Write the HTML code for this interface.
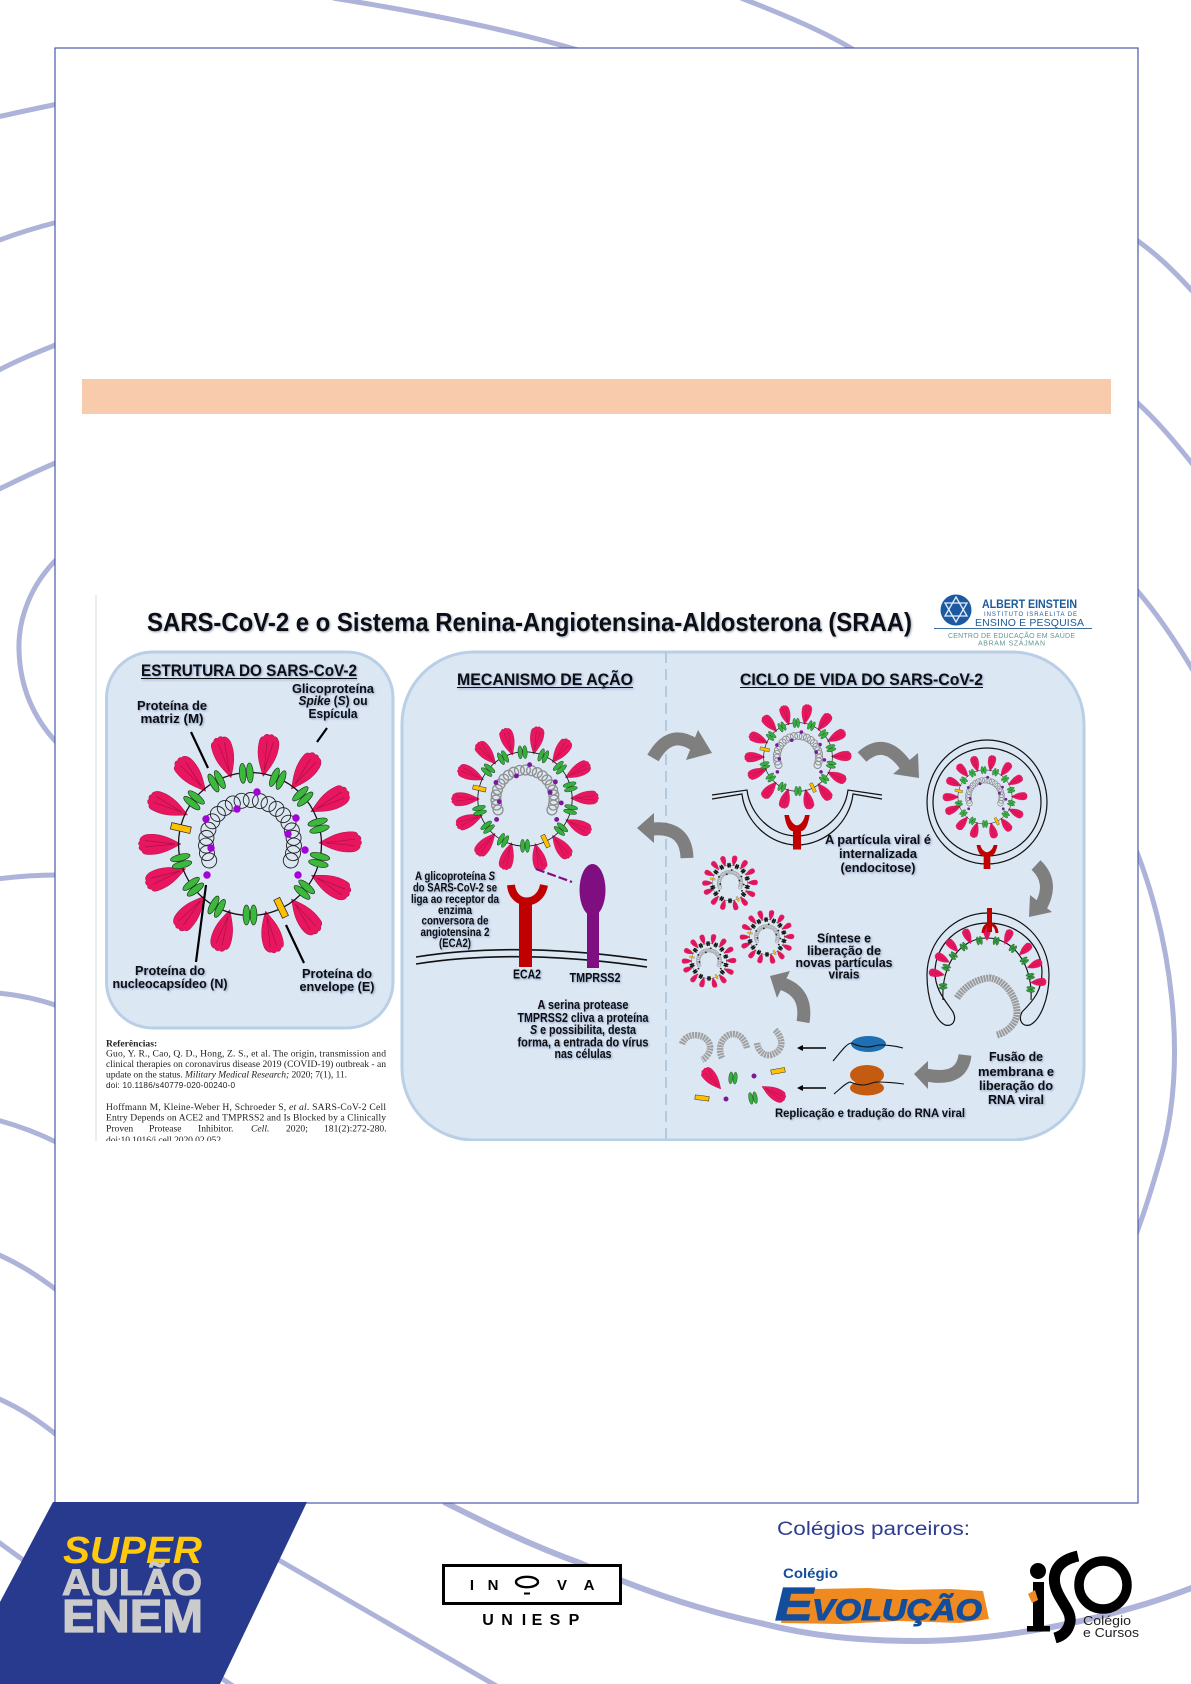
<!DOCTYPE html>
<html lang="pt">
<head>
<meta charset="utf-8">
<title>SARS-CoV-2 e o Sistema Renina-Angiotensina-Aldosterona</title>
<style>
html,body{margin:0;padding:0;background:#fff}
svg{display:block}
text{font-family:"Liberation Sans",sans-serif}
.b{font-weight:700;fill:#0d0d12}
.sh{filter:drop-shadow(1px 1px 1px rgba(70,100,150,.55))}
.t{font-family:"Liberation Serif",serif;font-size:9.6px;fill:#222}
</style>
</head>
<body>
<svg xmlns="http://www.w3.org/2000/svg" width="1191" height="1684" viewBox="0 0 1191 1684">
<defs>
  <g id="s">
    <path d="M0,2 C-6,-9 -11,-18 -10.500,-31 C-10.500,-35 -9,-37 -7,-37 C-6,-40 -3,-41 -2,-39 C-1,-41 2,-41 3,-39 C6,-40 9,-36 9.500,-32 C11,-19 6,-9 0,2Z" fill="#e8165e" stroke="#b01048" stroke-width=".5"/>
    <path d="M0,-4 L-3,-34 M0,-4 L3.500,-34" stroke="#a81048" stroke-width=".7" fill="none"/>
  </g>
  <g id="m"><ellipse cx="-3.600" rx="3.400" ry="10" stroke="#1a3a1a" stroke-width=".7"/><ellipse cx="3.600" rx="3.400" ry="10" stroke="#1a3a1a" stroke-width=".7"/></g>
  <rect id="e" x="-3.300" y="-10" width="6.600" height="20" fill="#ffc000" stroke="#222" stroke-width=".7"/>
  <g id="shell">
    <use href="#s" transform="rotate(11) translate(0,-71)"/><use href="#s" transform="rotate(37) translate(0,-71)"/><use href="#s" transform="rotate(62) translate(0,-71)"/><use href="#s" transform="rotate(89) translate(0,-71)"/><use href="#s" transform="rotate(117) translate(0,-71)"/><use href="#s" transform="rotate(143) translate(0,-71)"/><use href="#s" transform="rotate(167) translate(0,-71)"/><use href="#s" transform="rotate(197) translate(0,-71)"/><use href="#s" transform="rotate(221) translate(0,-71)"/><use href="#s" transform="rotate(249) translate(0,-71)"/><use href="#s" transform="rotate(270) translate(0,-71)"/><use href="#s" transform="rotate(295) translate(0,-71)"/><use href="#s" transform="rotate(320) translate(0,-71)"/><use href="#s" transform="rotate(344) translate(0,-71)"/>
    <circle r="71.500" fill="none" stroke="#111" stroke-width="1.300"/>
  </g>
  <g id="mp">
    <use href="#m" transform="rotate(-3) translate(0,-71)"/><use href="#m" transform="rotate(23) translate(0,-71)"/><use href="#m" transform="rotate(48) translate(0,-71)"/><use href="#m" transform="rotate(75) translate(0,-71)"/><use href="#m" transform="rotate(103) translate(0,-71)"/><use href="#m" transform="rotate(130) translate(0,-71)"/><use href="#m" transform="rotate(180) translate(0,-71)"/><use href="#m" transform="rotate(208) translate(0,-71)"/><use href="#m" transform="rotate(233) translate(0,-71)"/><use href="#m" transform="rotate(256) translate(0,-71)"/><use href="#m" transform="rotate(308) translate(0,-71)"/><use href="#m" transform="rotate(332) translate(0,-71)"/>
    <use href="#e" transform="rotate(283) translate(0,-71)"/><use href="#e" transform="rotate(154) translate(0,-71)"/>
  </g>
  <g id="coil" fill="none">
    <circle cy="-44" r="7.500" transform="rotate(-112)"/><circle cy="-44" r="7.500" transform="rotate(-102)"/><circle cy="-44" r="7.500" transform="rotate(-92)"/><circle cy="-44" r="7.500" transform="rotate(-82)"/><circle cy="-44" r="7.500" transform="rotate(-71)"/><circle cy="-44" r="7.500" transform="rotate(-59)"/><circle cy="-44" r="7.500" transform="rotate(-47)"/><circle cy="-44" r="7.500" transform="rotate(-35)"/><circle cy="-44" r="7.500" transform="rotate(-23)"/><circle cy="-44" r="7.500" transform="rotate(-11)"/><circle cy="-44" r="7.500" transform="rotate(1)"/><circle cy="-44" r="7.500" transform="rotate(13)"/><circle cy="-44" r="7.500" transform="rotate(25)"/><circle cy="-44" r="7.500" transform="rotate(37)"/><circle cy="-44" r="7.500" transform="rotate(49)"/><circle cy="-44" r="7.500" transform="rotate(61)"/><circle cy="-44" r="7.500" transform="rotate(72)"/><circle cy="-44" r="7.500" transform="rotate(82)"/><circle cy="-44" r="7.500" transform="rotate(92)"/><circle cy="-44" r="7.500" transform="rotate(102)"/><circle cy="-44" r="7.500" transform="rotate(112)"/>
  </g>
  <g id="dots">
    <circle cx="7" cy="-52" r="3.700"/><circle cx="-13" cy="-35" r="3.700"/><circle cx="-44" cy="-25" r="3.700"/><circle cx="-39" cy="4" r="3.700"/><circle cx="-43" cy="31" r="3.700"/><circle cx="46" cy="-26" r="3.700"/><circle cx="38" cy="-10" r="3.700"/><circle cx="55" cy="6" r="3.700"/><circle cx="48" cy="31" r="3.700"/>
  </g>
  <g id="v1">
    <use href="#shell"/><use href="#mp" fill="#35b03c"/>
    <use href="#coil" stroke="#8f8f8f" stroke-width="2"/>
    <use href="#dots" fill="#7a1a9a"/>
  </g>
  <g id="v2">
    <use href="#shell"/><use href="#mp" fill="#111"/>
    <use href="#coil" stroke="#a5a5a5" stroke-width="3"/>
    <use href="#dots" fill="#222"/>
  </g>
  <path id="y" d="M-11,0 C-9,13 -5,14 -3.500,14 L-3.500,30 L3.500,30 L3.500,14 C5,14 9,13 11,0 L7,0 C6,6 2,9 0,9 C-2,9 -6,6 -7,0Z" fill="#c00000"/>
  <clipPath id="clipDiagram"><rect x="90" y="580" width="1030" height="561"/></clipPath>
</defs>

<rect width="1191" height="1684" fill="#fff"/>

<!-- background curves -->
<g fill="none" stroke="#aeb3d9" stroke-width="5">
  <path d="M333,-2 C420,12 510,30 578,50"/>
  <path d="M741,-2 C785,15 825,32 854,50"/>
  <path d="M-3,117 C20,112 38,108 58,104"/>
  <path d="M-3,241 C18,233 38,227 58,222"/>
  <path d="M-3,371 C18,360 38,352 58,344"/>
  <path d="M-3,490 C18,480 38,470 58,462"/>
  <path d="M58,558 C30,585 18,620 19,650 C20,690 35,720 58,744"/>
  <path d="M-3,879 C20,876 38,875 58,875"/>
  <path d="M-3,993 C20,995 38,999 58,1006"/>
  <path d="M-3,1120 C20,1126 38,1133 58,1143"/>
  <path d="M-3,1254 C20,1264 38,1276 58,1291"/>
  <path d="M-3,1398 C20,1408 38,1420 58,1436"/>
  <path d="M1132,237 C1155,252 1175,272 1194,293"/>
  <path d="M1132,398 C1155,418 1175,442 1194,466"/>
  <path d="M1132,585 C1155,610 1175,640 1194,672"/>
  <path d="M1132,840 C1170,930 1190,1060 1160,1160 C1150,1195 1140,1225 1132,1245"/>
  <path d="M444,1502 C490,1525 530,1545 580,1563 C640,1590 700,1610 760,1623 C810,1636 860,1641 917,1641 C1000,1641 1110,1620 1194,1587" stroke-width="6"/>
  <path d="M-3,1541 L30,1565"/>
  <path d="M270,1555 L500,1688"/>
  <path d="M218,1676 L236,1688"/>
</g>

<!-- page frame -->
<rect x="55" y="48" width="1083" height="1455" fill="#fff" stroke="#4a59a8" stroke-width="1.200"/>
<rect x="82" y="379" width="1029" height="35" fill="#f7cbac"/>

<!-- blue footer shape -->
<polygon points="53,1502 307,1502 220,1684 0,1684 0,1602" fill="#273a8e"/>

<!-- DIAGRAM -->
<g clip-path="url(#clipDiagram)">
  <line x1="96" y1="595" x2="96" y2="1141" stroke="#d8d8d8" stroke-width="1"/>
  <rect x="106.500" y="652" width="286.500" height="376" rx="46" fill="#dce7f4" stroke="#b9cfe6" stroke-width="3"/>
  <rect x="402" y="652" width="682" height="488" rx="72" fill="#dce7f4" stroke="#b9cfe6" stroke-width="3"/>
  <line x1="666" y1="652" x2="666" y2="1141" stroke="#a6c4de" stroke-width="1.600" stroke-dasharray="11 6"/>

  <!-- title -->
  <g class="sh">
    <text class="b" x="147" y="631" font-size="26" textLength="765" lengthAdjust="spacingAndGlyphs">SARS-CoV-2 e o Sistema Renina-Angiotensina-Aldosterona (SRAA)</text>
  </g>

  <!-- Left panel -->
  <g transform="translate(250,844)">
    <use href="#shell"/><use href="#mp" fill="#3cb83c"/>
    <use href="#coil" stroke="#222" stroke-width=".9"/>
    <use href="#dots" fill="#a400d8"/>
  </g>
  <g stroke="#000" stroke-width="2.200">
    <line x1="191" y1="732" x2="208" y2="768"/>
    <line x1="327" y1="728" x2="317" y2="742"/>
    <line x1="206" y1="885" x2="196" y2="962"/>
    <line x1="286" y1="925" x2="304" y2="963"/>
  </g>
  <g class="sh">
    <text class="b" x="141" y="676" font-size="17" textLength="216" lengthAdjust="spacingAndGlyphs">ESTRUTURA DO SARS-CoV-2</text>
    <line x1="141" y1="678.500" x2="357" y2="678.500" stroke="#111" stroke-width="1"/>
    <g font-size="13">
      <text class="b" x="333" y="693" text-anchor="middle" textLength="82" lengthAdjust="spacingAndGlyphs">Glicoproteína</text>
      <text class="b" x="333" y="705" text-anchor="middle" textLength="69" lengthAdjust="spacingAndGlyphs"><tspan font-style="italic">Spike</tspan> (<tspan font-style="italic">S</tspan>) ou</text>
      <text class="b" x="333" y="718" text-anchor="middle" textLength="49" lengthAdjust="spacingAndGlyphs">Espícula</text>
      <text class="b" x="172" y="710" text-anchor="middle" textLength="70" lengthAdjust="spacingAndGlyphs">Proteína de</text>
      <text class="b" x="172" y="723" text-anchor="middle" textLength="63" lengthAdjust="spacingAndGlyphs">matriz (M)</text>
      <text class="b" x="170" y="975" text-anchor="middle" textLength="70" lengthAdjust="spacingAndGlyphs">Proteína do</text>
      <text class="b" x="170" y="988" text-anchor="middle" textLength="115" lengthAdjust="spacingAndGlyphs">nucleocapsídeo (N)</text>
      <text class="b" x="337" y="978" text-anchor="middle" textLength="70" lengthAdjust="spacingAndGlyphs">Proteína do</text>
      <text class="b" x="337" y="991" text-anchor="middle" textLength="75" lengthAdjust="spacingAndGlyphs">envelope (E)</text>
    </g>
  </g>

  <!-- References -->
  <text class="t" x="106" y="1046.500" font-weight="700">Referências:</text>
  <text class="t" x="106" y="1056.500" textLength="280">Guo, Y. R., Cao, Q. D., Hong, Z. S., et al. The origin, transmission and</text>
  <text class="t" x="106" y="1067" textLength="280">clinical therapies on coronavirus disease 2019 (COVID-19) outbreak - an</text>
  <text class="t" x="106" y="1077.600" textLength="241">update on the status. <tspan font-style="italic">Military Medical Research;</tspan> 2020; 7(1), 11.</text>
  <text x="106" y="1088" font-size="8.200" fill="#222" textLength="129">doi: 10.1186/s40779-020-00240-0</text>
  <text class="t" x="106" y="1110" textLength="280">Hoffmann M, Kleine-Weber H, Schroeder S, <tspan font-style="italic">et al</tspan>. SARS-CoV-2 Cell</text>
  <text class="t" x="106" y="1120.500" textLength="280">Entry Depends on ACE2 and TMPRSS2 and Is Blocked by a Clinically</text>
  <text class="t" y="1131.500"><tspan x="106">Proven</tspan><tspan x="149">Protease</tspan><tspan x="198">Inhibitor.</tspan><tspan x="251" font-style="italic">Cell.</tspan><tspan x="286">2020;</tspan><tspan x="324">181(2):272-280.</tspan></text>
  <text class="t" x="106" y="1143" textLength="115">doi:10.1016/j.cell.2020.02.052</text>

  <!-- Mechanism -->
  <use href="#v1" transform="translate(525,799) scale(.66)"/>
  <g fill="none" stroke="#111" stroke-width="1.600">
    <path d="M416,957 Q517,941 647,960"/>
    <path d="M416,964 Q517,948 647,967"/>
  </g>
  <rect x="519" y="903" width="13" height="64" fill="#c00000"/>
  <path d="M511,885 C513,907 540,907 544,885" fill="none" stroke="#c00000" stroke-width="8"/>
  <rect x="587" y="905" width="12" height="63" fill="#7f0f80"/>
  <ellipse cx="592.500" cy="890" rx="13" ry="26" fill="#7f0f80"/>
  <line x1="536" y1="869" x2="572" y2="882" stroke="#7f0f80" stroke-width="2.200" stroke-dasharray="9 3"/>
  <g class="sh">
    <text class="b" x="457" y="685" font-size="17" textLength="176" lengthAdjust="spacingAndGlyphs">MECANISMO DE AÇÃO</text>
    <line x1="457" y1="687.500" x2="633" y2="687.500" stroke="#111" stroke-width="1"/>
    <g font-size="11.500">
      <text class="b" x="455" y="880" text-anchor="middle" textLength="80" lengthAdjust="spacingAndGlyphs">A glicoproteína <tspan font-style="italic">S</tspan></text>
      <text class="b" x="455" y="891.500" text-anchor="middle" textLength="84" lengthAdjust="spacingAndGlyphs">do SARS-CoV-2 se</text>
      <text class="b" x="455" y="903" text-anchor="middle" textLength="88" lengthAdjust="spacingAndGlyphs">liga ao receptor da</text>
      <text class="b" x="455" y="914" text-anchor="middle" textLength="34" lengthAdjust="spacingAndGlyphs">enzima</text>
      <text class="b" x="455" y="924.500" text-anchor="middle" textLength="67" lengthAdjust="spacingAndGlyphs">conversora de</text>
      <text class="b" x="455" y="936" text-anchor="middle" textLength="69" lengthAdjust="spacingAndGlyphs">angiotensina 2</text>
      <text class="b" x="455" y="947" text-anchor="middle" textLength="32" lengthAdjust="spacingAndGlyphs">(ECA2)</text>
    </g>
    <g font-size="12.500">
      <text class="b" x="527" y="978.500" text-anchor="middle" textLength="28" lengthAdjust="spacingAndGlyphs">ECA2</text>
      <text class="b" x="595" y="982" text-anchor="middle" textLength="51" lengthAdjust="spacingAndGlyphs">TMPRSS2</text>
      <text class="b" x="583" y="1009" text-anchor="middle" textLength="91" lengthAdjust="spacingAndGlyphs">A serina protease</text>
      <text class="b" x="583" y="1022" text-anchor="middle" textLength="131" lengthAdjust="spacingAndGlyphs">TMPRSS2 cliva a proteína</text>
      <text class="b" x="583" y="1034" text-anchor="middle" textLength="106" lengthAdjust="spacingAndGlyphs"><tspan font-style="italic">S</tspan> e possibilita, desta</text>
      <text class="b" x="583" y="1046.500" text-anchor="middle" textLength="131" lengthAdjust="spacingAndGlyphs">forma, a entrada do vírus</text>
      <text class="b" x="583" y="1058" text-anchor="middle" textLength="57" lengthAdjust="spacingAndGlyphs">nas células</text>
    </g>
  </g>

  <!-- Thick gray arrows -->
  <g fill="none" stroke="#7f7f7f" stroke-width="13">
    <path d="M653,758 Q670,728 695,745"/>
    <path d="M687,858 Q686,826 652,829"/>
    <path d="M862,757 Q885,736 906,766"/>
    <path d="M1036,865 Q1054,882 1041,906"/>
    <path d="M965,1055 Q962,1082 926,1075"/>
    <path d="M803,1022 Q808,993 783,984"/>
  </g>
  <g fill="#7f7f7f">
    <polygon points="698,730 712,753 686,760"/>
    <polygon points="654,813 637,828 654,843"/>
    <polygon points="918,753 919,778 893,774"/>
    <polygon points="1030,895 1052,912 1029,917"/>
    <polygon points="928,1061 914,1074 928,1089"/>
    <polygon points="790,971 770,976 777,998"/>
  </g>

  <!-- Life cycle -->
  <text class="b sh" x="740" y="685" font-size="17" textLength="243" lengthAdjust="spacingAndGlyphs">CICLO DE VIDA DO SARS-CoV-2</text>
  <line x1="740" y1="687.500" x2="983" y2="687.500" stroke="#111" stroke-width="1"/>

  <use href="#v1" transform="translate(798,757) scale(.48)"/>
  <g fill="none" stroke="#111" stroke-width="1.200">
    <path d="M712,795 L747,790 C750,815 772,836 797,836 C822,836 845,815 848,790 L882,795"/>
    <path d="M712,799 L742,794 C745,822 770,845 797,845 C825,845 850,822 853,794 L882,799"/>
  </g>
  <use href="#y" transform="translate(797,815) scale(1.150)"/>

  <g fill="none" stroke="#111" stroke-width="1.200">
    <ellipse cx="987" cy="802" rx="60" ry="62"/>
    <ellipse cx="987" cy="802" rx="54" ry="54"/>
  </g>
  <use href="#v1" transform="translate(985,797) scale(.38)"/>
  <use href="#y" transform="translate(987,845) scale(.95,.8)"/>

  <!-- fusion -->
  <path d="M945,1025 C935,1020 927,1000 927,975 C927,940 955,913 988,913 C1021,913 1049,940 1049,975 C1049,1000 1040,1020 1030,1025 C1022,1027 1018,1020 1022,1012 C1034,1000 1042,990 1042,972 C1042,945 1018,923 988,923 C958,923 935,945 935,972 C935,990 945,1000 953,1012 C957,1020 953,1027 945,1025Z" fill="none" stroke="#111" stroke-width="1.200"/>
  <path d="M943,1000 C941,965 960,938 987,938 C1014,938 1033,965 1031,1000" fill="none" stroke="#111" stroke-width="1.100"/>
  <g transform="translate(987,984)">
    <use href="#s" transform="rotate(-78) translate(0,-44) scale(.38)"/><use href="#s" transform="rotate(-60) translate(0,-44) scale(.38)"/><use href="#s" transform="rotate(-42) translate(0,-44) scale(.38)"/><use href="#s" transform="rotate(-22) translate(0,-44) scale(.38)"/><use href="#s" transform="rotate(0) translate(0,-44) scale(.38)"/><use href="#s" transform="rotate(24) translate(0,-44) scale(.38)"/><use href="#s" transform="rotate(48) translate(0,-44) scale(.38)"/><use href="#s" transform="rotate(68) translate(0,-44) scale(.38)"/><use href="#s" transform="rotate(88) translate(0,-44) scale(.38)"/>
    <g fill="#2f9a36">
      <use href="#m" transform="rotate(-93) translate(0,-44) scale(.42)"/><use href="#m" transform="rotate(-68) translate(0,-44) scale(.42)"/><use href="#m" transform="rotate(-50) translate(0,-44) scale(.42)"/><use href="#m" transform="rotate(-32) translate(0,-44) scale(.42)"/><use href="#m" transform="rotate(-10) translate(0,-44) scale(.42)"/><use href="#m" transform="rotate(12) translate(0,-44) scale(.42)"/><use href="#m" transform="rotate(36) translate(0,-44) scale(.42)"/><use href="#m" transform="rotate(58) translate(0,-44) scale(.42)"/><use href="#m" transform="rotate(80) translate(0,-44) scale(.42)"/><use href="#m" transform="rotate(97) translate(0,-44) scale(.42)"/>
    </g>
  </g>
  <path d="M957,998 C965,985 980,978 990,978 C1005,980 1018,998 1017,1015 C1015,1025 1007,1032 997,1035" fill="none" stroke="#9a9a9a" stroke-width="7" stroke-dasharray="2 .8"/>
  <rect x="987" y="908" width="5" height="24" fill="#c00000"/>
  <path d="M983,933 C984,921 996,921 997,933" fill="none" stroke="#c00000" stroke-width="3"/>

  <!-- new particles -->
  <use href="#v2" transform="translate(730,883) scale(.25)"/>
  <use href="#v2" transform="translate(767,937) scale(.245)"/>
  <use href="#v2" transform="translate(709,961) scale(.245)"/>

  <!-- RNA + ribosomes -->
  <g fill="none" stroke="#a0a0a0" stroke-width="6.500" stroke-dasharray="2 .8">
    <path d="M682,1044 C687,1030 708,1034 710,1046 C711,1052 706,1058 702,1060"/>
    <path d="M722,1058 C716,1045 725,1034 733,1034 C740,1034 745,1040 747,1048"/>
    <path d="M775,1030 C785,1040 783,1052 770,1055 C763,1056 758,1050 757,1043"/>
  </g>

  <ellipse cx="868.500" cy="1044" rx="17.500" ry="8" fill="#1f6fb5"/>
  <path d="M833,1061 C840,1053 846,1044 851,1043 C858,1046 862,1047 867,1047 C872,1047 876,1045 880,1045 C888,1045 896,1046 903,1048" fill="none" stroke="#111" stroke-width="1.100"/>
  <ellipse cx="867" cy="1088" rx="17" ry="7.500" fill="#c55a11"/>
  <ellipse cx="867" cy="1075" rx="17" ry="10" fill="#c55a11"/>
  <path d="M834,1094 C841,1088 846,1083 850,1082 C855,1084 860,1085 863,1085 C868,1085 873,1082 877,1082 C886,1082 896,1083 904,1084" fill="none" stroke="#111" stroke-width="1.100"/>
  <g stroke="#000" stroke-width="1.400"><line x1="800" y1="1048" x2="826" y2="1048"/><line x1="800" y1="1088" x2="826" y2="1088"/></g>
  <polygon points="797,1048 803,1045 803,1051"/><polygon points="797,1088 803,1085 803,1091"/>

  <use href="#s" transform="translate(720,1088) rotate(-40) scale(.62)"/>
  <use href="#s" transform="translate(763,1087) rotate(120) scale(.62)"/>
  <use href="#m" fill="#35b03c" transform="translate(733,1078) rotate(5) scale(.6)"/>
  <use href="#m" fill="#35b03c" transform="translate(753,1098) rotate(-10) scale(.6)"/>
  <use href="#e" transform="translate(778,1071) rotate(80) scale(.7)"/>
  <use href="#e" transform="translate(702,1098) rotate(97) scale(.7)"/>
  <circle cx="754" cy="1076" r="2.500" fill="#7a1a9a"/><circle cx="726" cy="1099" r="2.500" fill="#7a1a9a"/>

  <g class="sh" font-size="13">
    <text class="b" x="878" y="844" text-anchor="middle" textLength="106" lengthAdjust="spacingAndGlyphs">A partícula viral é</text>
    <text class="b" x="878" y="858" text-anchor="middle" textLength="78" lengthAdjust="spacingAndGlyphs">internalizada</text>
    <text class="b" x="878" y="872" text-anchor="middle" textLength="75" lengthAdjust="spacingAndGlyphs">(endocitose)</text>
    <text class="b" x="844" y="942.500" text-anchor="middle" textLength="54" lengthAdjust="spacingAndGlyphs">Síntese e</text>
    <text class="b" x="844" y="955" text-anchor="middle" textLength="74" lengthAdjust="spacingAndGlyphs">liberação de</text>
    <text class="b" x="844" y="967" text-anchor="middle" textLength="97" lengthAdjust="spacingAndGlyphs">novas partículas</text>
    <text class="b" x="844" y="978.500" text-anchor="middle" textLength="31" lengthAdjust="spacingAndGlyphs">virais</text>
    <text class="b" x="1016" y="1061" text-anchor="middle" textLength="54" lengthAdjust="spacingAndGlyphs">Fusão de</text>
    <text class="b" x="1016" y="1076" text-anchor="middle" textLength="76" lengthAdjust="spacingAndGlyphs">membrana e</text>
    <text class="b" x="1016" y="1090" text-anchor="middle" textLength="74" lengthAdjust="spacingAndGlyphs">liberação do</text>
    <text class="b" x="1016" y="1104" text-anchor="middle" textLength="56" lengthAdjust="spacingAndGlyphs">RNA viral</text>
    <text class="b" x="775" y="1117" font-size="12" textLength="190" lengthAdjust="spacingAndGlyphs">Replicação e tradução do RNA viral</text>
  </g>

  <!-- Einstein logo -->
  <circle cx="956" cy="610" r="15.500" fill="#1b5aa3"/>
  <g fill="none" stroke="#e8eef6" stroke-width="1.300">
    <polygon points="956,597 967,616 945,616"/>
    <polygon points="956,622 945,603 967,603"/>
  </g>
  <g fill="#1c5a9c">
    <text x="982" y="608" font-size="11.500" font-weight="700" textLength="95" lengthAdjust="spacingAndGlyphs">ALBERT EINSTEIN</text>
    <text x="984" y="616" font-size="6" textLength="93">INSTITUTO ISRAELITA DE</text>
    <text x="975" y="626" font-size="10.500" textLength="109">ENSINO E PESQUISA</text>
  </g>
  <line x1="934" y1="628.500" x2="1092" y2="628.500" stroke="#3d6f9f" stroke-width="1"/>
  <g fill="#5f9793" font-size="7">
    <text x="948" y="638" textLength="127">CENTRO DE EDUCAÇÃO EM SAÚDE</text>
    <text x="978" y="645.500" textLength="67">ABRAM SZAJMAN</text>
  </g>
</g>

<!-- Footer: Super Aulão -->
<text x="63" y="1563" font-size="38" font-weight="700" font-style="italic" fill="#ffc90e" textLength="139" lengthAdjust="spacingAndGlyphs">SUPER</text>
<text x="62" y="1595" font-size="37" font-weight="700" fill="#cbcbcb" stroke="#cbcbcb" stroke-width="1" textLength="140" lengthAdjust="spacingAndGlyphs">AULÃO</text>
<text x="62" y="1632" font-size="46" font-weight="700" fill="#cbcbcb" stroke="#cbcbcb" stroke-width="1.200" textLength="141" lengthAdjust="spacingAndGlyphs">ENEM</text>

<!-- Inova -->
<rect x="443.500" y="1565.500" width="177" height="38" fill="#fff" stroke="#000" stroke-width="3"/>
<g font-size="15" font-weight="700" fill="#000" text-anchor="middle">
  <text x="472" y="1590">I</text><text x="493" y="1590">N</text><text x="562" y="1590">V</text><text x="589" y="1590">A</text>
  <text x="488" y="1625" font-size="16">U</text><text x="507" y="1625" font-size="16">N</text><text x="524" y="1625" font-size="16">I</text><text x="537" y="1625" font-size="16">E</text><text x="555" y="1625" font-size="16">S</text><text x="574" y="1625" font-size="16">P</text>
</g>
<ellipse cx="527" cy="1582" rx="11" ry="5.200" fill="none" stroke="#000" stroke-width="2.400"/>
<rect x="524" y="1592.500" width="6" height="2" fill="#000"/>

<!-- Partners -->
<text x="777" y="1535" font-size="19" fill="#2e3d92" textLength="193" lengthAdjust="spacingAndGlyphs">Colégios parceiros:</text>
<text x="783" y="1578" font-size="14" font-weight="700" fill="#134d9c" textLength="55" lengthAdjust="spacingAndGlyphs">Colégio</text>
<polygon points="785,1590 800,1588 815,1589 868,1588 900,1590 950,1589 983,1591 989,1619 960,1623 900,1621 840,1624 781,1623" fill="#ee8a20"/>
<text x="775" y="1620" font-size="46" font-weight="700" font-style="italic" fill="#134d9c" stroke="#134d9c" stroke-width="1.200" textLength="38" lengthAdjust="spacingAndGlyphs">E</text>
<text x="812" y="1620" font-size="30" font-weight="700" font-style="italic" fill="#134d9c" stroke="#134d9c" stroke-width="1" textLength="170" lengthAdjust="spacingAndGlyphs">VOLUÇÃO</text>

<circle cx="1038" cy="1571" r="8" fill="#000"/>
<rect x="1033" y="1582" width="11" height="46" fill="#000"/>
<rect x="1027" y="1626" width="23" height="5.500" fill="#000"/>
<polygon points="1028,1594 1035,1590 1038,1600 1032,1603" fill="#ee8a20"/>
<path d="M1078,1556 C1060,1560 1052,1570 1055,1585 C1058,1600 1072,1610 1070,1622 C1068,1632 1062,1636 1055,1638" fill="none" stroke="#000" stroke-width="11"/>
<circle cx="1103" cy="1585" r="24" fill="none" stroke="#000" stroke-width="9.500"/>
<text x="1083" y="1625" font-size="13" fill="#222" textLength="48" lengthAdjust="spacingAndGlyphs">Colégio</text>
<text x="1083" y="1637" font-size="13" fill="#222" textLength="56" lengthAdjust="spacingAndGlyphs">e Cursos</text>
</svg>
</body>
</html>
